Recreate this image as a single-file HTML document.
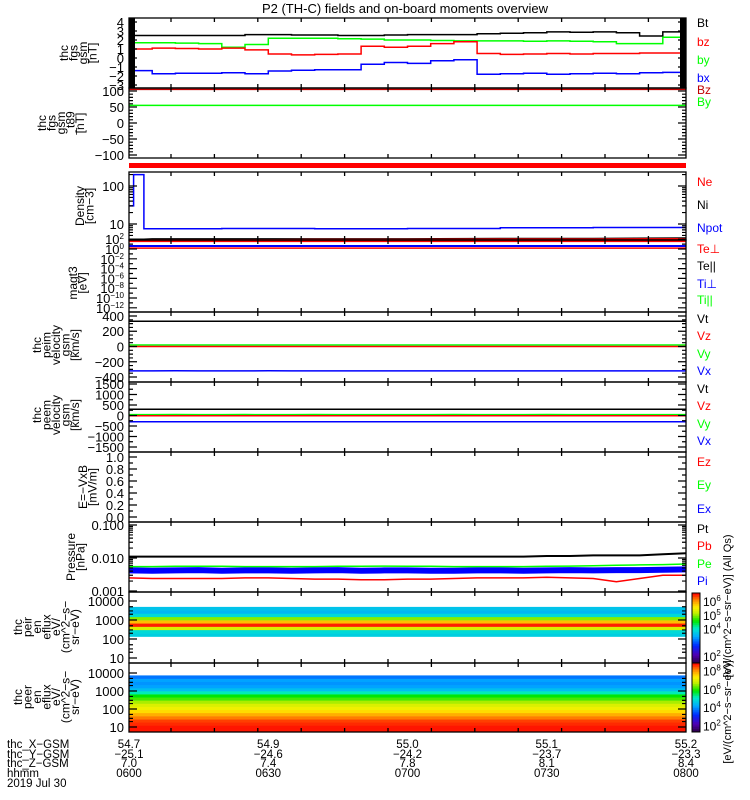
<!DOCTYPE html>
<html><head><meta charset="utf-8">
<style>
html,body{margin:0;padding:0;background:#fff;}
svg{display:block;font-family:"Liberation Sans",sans-serif;}
</style></head>
<body>
<svg id="fig" width="750" height="800" viewBox="0 0 750 800" xmlns="http://www.w3.org/2000/svg">
<text x="405" y="13" font-size="13" text-anchor="middle">P2 (TH-C) fields and on-board moments overview</text>
</svg>
<script>
// ---------- data ----------
const timeMin = [0,5,10,15,20,25,30,35,40,45,50,55,60,65,70,75,80,85,90,95,100,105,110,115,120];
const fgsBt = [2.5,2.5,2.5,2.5,2.5,2.6,2.6,2.55,2.55,2.5,2.5,2.55,2.6,2.6,2.6,2.7,2.75,2.8,2.9,2.85,2.9,2.8,2.45,2.9,3.3];
const fgsBy = [1.7,1.7,1.65,1.6,1.2,1.5,2.2,2.2,2.2,2.15,2.1,2.0,2.0,1.95,1.9,1.9,1.9,1.85,1.9,1.85,1.8,1.6,1.6,2.3,2.7];
const fgsBz = [1.0,1.1,1.05,1.0,1.1,0.9,0.45,0.35,0.4,0.45,1.3,1.2,1.3,1.6,1.8,0.5,0.4,0.45,0.5,0.45,0.5,0.5,0.55,0.55,0.4];
const fgsBx = [-1.4,-1.75,-1.7,-1.7,-1.65,-1.75,-1.45,-1.35,-1.3,-1.3,-0.7,-0.5,-0.6,-0.3,-0.2,-1.8,-1.75,-1.7,-1.8,-1.75,-1.7,-1.75,-1.65,-1.6,-1.7];
const t89Bz = [105,105,105,105,105,105,105,105,105,105,105,105,105,105,105,105,105,105,105,105,105,105,105,105,105];
const t89By = [55,55,55,55,55,55,55,55,55,55,55,55,55,55,55,55,55,55,55,55,55,55,55,55,55];
const densTime = [0,1,3,3.2,5,20,40,60,80,100,120];
const densNpot = [30,200,200,7.5,7.5,7.6,7.5,7.6,8.0,8.1,8.2];
const densNe = [3.7,3.7,3.7,3.7,3.8,3.8,3.9,3.9,4.0,4.0,4.1];
const densNi = [3.9,3.9,3.9,3.9,4.0,4.0,4.0,4.0,4.1,4.1,4.2];
const tempTe = [40,40,40,40,40,40,40,40,40,40,40,40,40,40,40,40,40,40,40,40,40,40,40,40,40];
const tempTi = [4,4,4,4,4,4,4,4,4,4,4,4,4,4,4,4,4,4,4,4,4,4,4,4,4];
const tempTiPar = [1.5,1.5,1.5,1.5,1.5,1.5,1.5,1.5,1.5,1.5,1.5,1.5,1.5,1.5,1.5,1.5,1.5,1.5,1.5,1.5,1.5,1.5,1.5,1.5,1.5];
const peimVt = [330,330,332,330,331,330,330,331,330,330,331,330,330,330,331,330,330,330,331,330,330,330,331,330,330];
const peimVy = [20,20,20,20,20,20,20,20,20,20,20,20,20,20,20,20,20,20,20,20,20,20,20,20,20];
const peimVz = [0,0,0,0,0,0,0,0,0,0,0,0,0,0,0,0,0,0,0,0,0,0,0,0,0];
const peimVx = [-320,-320,-318,-320,-320,-320,-319,-320,-320,-320,-320,-320,-320,-320,-320,-320,-320,-320,-320,-320,-320,-320,-320,-320,-320];
const peemVt = [300,300,300,300,300,300,300,300,300,300,300,300,300,300,300,300,300,300,300,300,300,300,300,300,300];
const peemVy = [30,30,32,30,30,31,30,30,32,30,30,30,30,30,31,30,30,30,32,30,30,30,30,30,30];
const peemVz = [-10,-10,-10,-10,-10,-10,-10,-10,-10,-10,-10,-10,-10,-10,-10,-10,-10,-10,-10,-10,-10,-10,-10,-10,-10];
const peemVx = [-300,-300,-300,-300,-300,-300,-300,-300,-300,-300,-300,-300,-300,-300,-300,-300,-300,-300,-300,-300,-300,-300,-300,-300,-300];
const presPt = [0.011,0.011,0.011,0.011,0.011,0.011,0.011,0.011,0.011,0.011,0.011,0.011,0.011,0.011,0.011,0.011,0.011,0.011,0.0115,0.0115,0.012,0.012,0.012,0.013,0.014];
const presPe = [0.0055,0.0055,0.0056,0.0056,0.0056,0.0055,0.0055,0.0055,0.0055,0.0056,0.0056,0.0057,0.0056,0.0056,0.0055,0.0055,0.0055,0.0055,0.0056,0.0057,0.0058,0.006,0.0062,0.0063,0.0066];
const presPi = [0.0042,0.0041,0.0042,0.0043,0.0041,0.0042,0.0042,0.0041,0.0042,0.0043,0.0041,0.0042,0.0042,0.0041,0.0041,0.0042,0.0042,0.0041,0.0042,0.0043,0.0042,0.0043,0.0043,0.0044,0.0045];
const presPb = [0.0025,0.0024,0.0024,0.0024,0.0024,0.0025,0.0025,0.0024,0.0023,0.0023,0.0022,0.0022,0.0023,0.0023,0.0024,0.0025,0.0025,0.0025,0.0026,0.0025,0.0024,0.0019,0.0024,0.003,0.003];
const peirEnergy = [10,15,22,33,50,75,110,165,250,370,550,820,1200,1800,2700,4000,6000,9000];
const peirFlux = [null,null,null,null,null,null,null,3.9,4.0,5.3,6.4,5.8,5.0,4.0,3.7,3.8,null,null];
const peerEnergy = [7,10,15,22,33,50,75,110,165,250,370,550,820,1200,1800,2700,4000,6000,9000];
const peerFlux = [8.4,8.4,8.3,8.2,7.9,7.6,7.3,7.0,6.8,6.5,6.1,5.8,5.2,4.6,4.3,4.2,4.3,4.0,null];
const orbX = ['54.7','54.9','55.0','55.1','55.2'];
const orbY = ['-25.1','-24.6','-24.2','-23.7','-23.3'];
const orbZ = ['7.0','7.4','7.8','8.1','8.4'];
const orbT = ['0600','0630','0700','0730','0800'];
const orbTimeMin = [0,30,60,90,120];

// ---------- layout ----------
const NS='http://www.w3.org/2000/svg';
const svg=document.getElementById('fig');
const X0=129, X1=686;
const xT = m => X0 + (X1-X0)*m/120;
function mk(tag){const e=document.createElementNS(NS,tag);svg.appendChild(e);return e;}

const panels=[
 {id:'fgs',top:18,bot:88,y:v=>58-9*v},
 {id:'t89',top:88,bot:158,y:v=>123-0.32*v},
 {id:'dens',top:172,bot:240,y:v=>224-38*Math.log10(v/10)},
 {id:'temp',top:240,bot:312,y:v=>249-4.9*Math.log10(v)},
 {id:'peim',top:312,bot:382,y:v=>346.5-0.0763*v},
 {id:'peem',top:382,bot:452,y:v=>415.5-0.021*v},
 {id:'efield',top:452,bot:522,y:v=>517-60*v},
 {id:'pres',top:522,bot:592,y:v=>558-33*Math.log10(v/0.01)},
 {id:'peir',top:592,bot:663,y:e=>601+19*(4-Math.log10(e))},
 {id:'peer',top:663,bot:732,y:e=>673+18*(4-Math.log10(e))}
];
const P={};panels.forEach(p=>P[p.id]=p);

const defs=mk('defs');
panels.forEach(p=>{
  const c=document.createElementNS(NS,'clipPath');c.setAttribute('id','clip-'+p.id);
  const r=document.createElementNS(NS,'rect');r.setAttribute('x',X0);r.setAttribute('y',p.top);r.setAttribute('width',X1-X0);r.setAttribute('height',p.bot-p.top);
  c.appendChild(r);defs.appendChild(c);
});

const stops=[[0,[40,0,60]],[0.12,[80,0,180]],[0.25,[0,40,255]],[0.38,[0,170,255]],[0.5,[0,235,200]],[0.6,[0,230,0]],[0.72,[200,240,0]],[0.8,[255,240,0]],[0.9,[255,140,0]],[1,[255,0,0]]];
function cmap(n){n=Math.max(0,Math.min(1,n));for(let i=1;i<stops.length;i++){if(n<=stops[i][0]){const a=stops[i-1],b=stops[i];const f=(n-a[0])/(b[0]-a[0]);const c=a[1].map((v,k)=>Math.round(v+(b[1][k]-v)*f));return 'rgb('+c.join(',')+')';}}return 'rgb(255,0,0)';}

function spectro(p,energy,flux,lo,hi,name){
  const g=mk('g');g.setAttribute('clip-path','url(#clip-'+p.id+')');
  
  
  for(let i=0;i<energy.length;i++){
    if(flux[i]===null) continue;
    const le=Math.log10(energy[i]);
    const l0=i>0?(le+Math.log10(energy[i-1]))/2:le-0.09;
    const l1=i<energy.length-1?(le+Math.log10(energy[i+1]))/2:le+0.09;
    const yTop=p.y(Math.pow(10,l1)), yBot=p.y(Math.pow(10,l0));
    const r=document.createElementNS(NS,'rect');g.appendChild(r);
    
    
    r.setAttribute('x',X0);r.setAttribute('width',X1-X0);
    r.setAttribute('y',yTop);r.setAttribute('height',Math.max(0,yBot-yTop)+0.3);
    r.setAttribute('fill',cmap((flux[i]-lo)/(hi-lo)));
  }
}
spectro(P.peir,peirEnergy,peirFlux,1.8,6.5,'peir-spectrogram');
spectro(P.peer,peerEnergy,peerFlux,1.8,8.5,'peer-spectrogram');

function line(p,xs,ys,color,name,w){
  const e=mk('polyline');
  
  
  e.setAttribute('points',xs.map((t,i)=>xT(t).toFixed(1)+','+p.y(ys[i]).toFixed(1)).join(' '));
  e.setAttribute('fill','none');e.setAttribute('stroke',color);e.setAttribute('stroke-width',w||1.5);
  e.setAttribute('clip-path','url(#clip-'+p.id+')');
}
function stepLine(p,xs,ys,color,name,w){
  const e=mk('path');
  
  
  let d='';xs.forEach((t,i)=>{const x=xT(t).toFixed(1),y=p.y(ys[i]).toFixed(1);d+=(i?'H'+x+'V'+y:'M'+x+','+y);});
  e.setAttribute('d',d);e.setAttribute('fill','none');e.setAttribute('stroke',color);e.setAttribute('stroke-width',w||1.5);
  e.setAttribute('clip-path','url(#clip-'+p.id+')');
}
stepLine(P.fgs,timeMin,fgsBt,'#000','bt-line');
stepLine(P.fgs,timeMin,fgsBy,'#00ff00','by-line');
stepLine(P.fgs,timeMin,fgsBz,'#ff0000','bz-line');
stepLine(P.fgs,timeMin,fgsBx,'#0000ff','bx-line');
line(P.t89,timeMin,t89Bz,'#c00000','t89-bz-line');
line(P.t89,timeMin,t89By,'#00ff00','t89-by-line');
stepLine(P.dens,densTime,densNpot,'#0000ff','npot-line');
line(P.dens,densTime,densNi,'#000','ni-line',2);
line(P.dens,densTime,densNe,'#ff0000','ne-line',1.5);
line(P.temp,timeMin,tempTe,'#ff0000','te-perp-line',2);
line(P.temp,timeMin,tempTi,'#0000ff','ti-perp-line',2);
line(P.temp,timeMin,tempTiPar,'#ff0000','ti-par-line',1.5);
line(P.peim,timeMin,peimVt,'#000','peim-vt-line');
line(P.peim,timeMin,peimVy,'#00ff00','peim-vy-line');
line(P.peim,timeMin,peimVz,'#ff0000','peim-vz-line');
line(P.peim,timeMin,peimVx,'#0000ff','peim-vx-line');
line(P.peem,timeMin,peemVt,'#000','peem-vt-line');
line(P.peem,timeMin,peemVy,'#00ff00','peem-vy-line',2);
line(P.peem,timeMin,peemVz,'#ff0000','peem-vz-line');
line(P.peem,timeMin,peemVx,'#0000ff','peem-vx-line');
line(P.pres,timeMin,presPt,'#000','pt-line',2);
line(P.pres,timeMin,presPe,'#00ff00','pe-line');
line(P.pres,timeMin,presPi,'#0000ff','pi-line',6);
line(P.pres,timeMin,presPb,'#ff0000','pb-line');

[[X0,X0+6],[X1-6,X1]].forEach(b=>{const r=mk('rect');
  
  
  r.setAttribute('x',b[0]);r.setAttribute('y',18);r.setAttribute('width',6);r.setAttribute('height',70);r.setAttribute('fill','#000');});
{const r=mk('rect');
  
  
  r.setAttribute('x',X0);r.setAttribute('y',163);r.setAttribute('width',X1-X0);r.setAttribute('height',5);r.setAttribute('fill','#ff0000');}

const tickX=[];for(let k=0;k<12;k++)tickX.push(171+43.4*k);
panels.forEach(p=>{
  const r=mk('rect');
  
  
  r.setAttribute('x',X0);r.setAttribute('y',p.top);r.setAttribute('width',X1-X0);r.setAttribute('height',p.bot-p.top);
  r.setAttribute('fill','none');r.setAttribute('stroke','#000');r.setAttribute('stroke-width',1.3);
  let d='';tickX.forEach(x=>{d+='M'+x+','+p.top+'v4M'+x+','+p.bot+'v-4';});
  const t=mk('path');
  
  
  t.setAttribute('d',d);t.setAttribute('stroke','#000');t.setAttribute('stroke-width',1.3);
});
{const l=mk('line');
 
 
 l.setAttribute('x1',X0);l.setAttribute('x2',X1);l.setAttribute('y1',172);l.setAttribute('y2',172);l.setAttribute('stroke','#000');}

function yAxis(p,major,labels,minor,name){
  let d='';
  major.forEach(v=>{const y=p.y(v);d+='M'+X0+','+y+'h8M'+X1+','+y+'h-8';});
  minor.forEach(v=>{const y=p.y(v);d+='M'+X0+','+y+'h4M'+X1+','+y+'h-4';});
  const t=mk('path');
  
  
  t.setAttribute('d',d);t.setAttribute('stroke','#000');t.setAttribute('stroke-width',1.2);
  major.forEach((v,i)=>{
    const tx=mk('text');
    
    
    tx.setAttribute('x',124);tx.setAttribute('y',p.y(v)+5);tx.setAttribute('text-anchor','end');tx.setAttribute('font-size','13');
    const lab=labels[i];
    if(typeof lab==='object'){tx.textContent='10';const s=document.createElementNS(NS,'tspan');s.setAttribute('dy','-5');s.setAttribute('font-size','8');s.textContent=lab.e;tx.appendChild(s);}
    else tx.textContent=lab;
  });
}
yAxis(P.fgs,[4,3,2,1,0,-1,-2,-3],['4','3','2','1','0','\u22121','\u22122','\u22123'],[3.5,2.5,1.5,0.5,-0.5,-1.5,-2.5],'fgs-y');
yAxis(P.t89,[100,50,0,-50,-100],['100','50','0','\u221250','\u2212100'],[90,80,70,60,40,30,20,10,-10,-20,-30,-40,-60,-70,-80,-90],'t89-y');
yAxis(P.dens,[100,10],['100','10'],[200,90,80,70,60,50,40,30,20,9,8,7,6,5,4],'density-y');
yAxis(P.temp,[100,1,0.01,1e-4,1e-6,1e-8,1e-10,1e-12],[{e:'2'},{e:'0'},{e:'\u22122'},{e:'\u22124'},{e:'\u22126'},{e:'\u22128'},{e:'\u221210'},{e:'\u221212'}],[10,0.1,1e-3,1e-5,1e-7,1e-9,1e-11],'temp-y');
yAxis(P.peim,[400,200,0,-200,-400],['400','200','0','\u2212200','\u2212400'],[350,300,250,150,100,50,-50,-100,-150,-250,-300,-350],'peim-y');
yAxis(P.peem,[1500,1000,500,0,-500,-1000,-1500],['1500','1000','500','0','\u2212500','\u22121000','\u22121500'],[1250,750,250,-250,-750,-1250],'peem-y');
yAxis(P.efield,[1,0.8,0.6,0.4,0.2,0],['1.0','0.8','0.6','0.4','0.2','0.0'],[0.9,0.7,0.5,0.3,0.1],'efield-y');
yAxis(P.pres,[0.1,0.01,0.001],['0.100','0.010','0.001'],[0.09,0.08,0.07,0.06,0.05,0.04,0.03,0.02,0.009,0.008,0.007,0.006,0.005,0.004,0.003,0.002],'pressure-y');
yAxis(P.peir,[10000,1000,100,10],['10000','1000','100','10'],[5000,3000,2000,500,300,200,50,30,20],'peir-y');
yAxis(P.peer,[10000,1000,100,10],['10000','1000','100','10'],[5000,3000,2000,500,300,200,50,30,20],'peer-y');

const titles=[
 [['thc','fgs','gsm','[nT]'],68,53],
 [['thc','fgs','gsm','_t89','[nT]'],46,123],
 [['Density','[cm\u22123]'],84,206],
 [['magt3','[eV]'],77,283],
 [['thc','peim','velocity','gsm','[km/s]'],41,345],
 [['thc','peem','velocity','gsm','[km/s]'],41,415],
 [['E=\u2212VxB','[mV/m]'],87,487],
 [['Pressure','[nPa]'],75,557],
 [['thc','peir','en','eflux','eV/','(cm^2\u2212s\u2212','sr\u2212eV)'],22,627],
 [['thc','peer','en','eflux','eV/','(cm^2\u2212s\u2212','sr\u2212eV)'],22,697]
];
titles.forEach(t=>{
  t[0].forEach((s,i)=>{
    const tx=mk('text');
    
    
    tx.setAttribute('transform','translate('+(t[1]+i*9.5)+','+t[2]+') rotate(-90)');
    tx.setAttribute('text-anchor','middle');tx.setAttribute('font-size','12');tx.textContent=s;
  });
});

const legends=[['Bt','#000',22],['bz','#ff0000',41],['by','#00ff00',59],['bx','#0000ff',77],['Bz','#c00000',89],['By','#00ff00',101],
 ['Ne','#ff0000',181],['Ni','#000',204],['Npot','#0000ff',227],['Te\u22a5','#ff0000',248],['Te||','#000',265],['Ti\u22a5','#0000ff',283],['Ti||','#00ff00',299],
 ['Vt','#000',318],['Vz','#ff0000',335],['Vy','#00ff00',353],['Vx','#0000ff',370],['Vt','#000',388],['Vz','#ff0000',405],['Vy','#00ff00',423],['Vx','#0000ff',440],
 ['Ez','#ff0000',461],['Ey','#00ff00',484],['Ex','#0000ff',508],['Pt','#000',528],['Pb','#ff0000',545],['Pe','#00ff00',563],['Pi','#0000ff',580]];
legends.forEach(l=>{
  const tx=mk('text');
  
  
  tx.setAttribute('x',697);tx.setAttribute('y',l[2]+5);tx.setAttribute('font-size','12');tx.setAttribute('fill',l[1]);tx.textContent=l[0];
});

function colorbar(top,bot,lo,hi,ticks,name){
  for(let i=0;i<40;i++){
    const r=mk('rect');
    
    
    const h=(bot-top)/40;r.setAttribute('x',692);r.setAttribute('y',bot-(i+1)*h);r.setAttribute('width',8);r.setAttribute('height',h+0.4);
    r.setAttribute('fill',cmap((i+0.5)/40));
  }
  const f=mk('rect');
  
  
  f.setAttribute('x',692);f.setAttribute('y',top);f.setAttribute('width',8);f.setAttribute('height',bot-top);f.setAttribute('fill','none');f.setAttribute('stroke','#000');
  ticks.forEach(t=>{
    const y=bot-(bot-top)*(t-lo)/(hi-lo);
    const tx=mk('text');
    
    
    tx.setAttribute('x',703);tx.setAttribute('y',y+5);tx.setAttribute('font-size','12');tx.textContent='10';
    const s=document.createElementNS(NS,'tspan');s.setAttribute('dy','-5');s.setAttribute('font-size','8');s.textContent=String(t);tx.appendChild(s);
  });
}
colorbar(593,663,1.5,6.6,[6,5,4,2],'peir-colorbar');
colorbar(663,732,1.3,8.8,[8,6,4,2],'peer-colorbar');
[['[eV/(cm^2\u2212s\u2212sr\u2212eV)] (All Qs)',606],['[eV/(cm^2\u2212s\u2212sr\u2212eV)]',712]].forEach(c=>{
  const tx=mk('text');
  
  
  tx.setAttribute('transform','translate(731,'+c[1]+') rotate(-90)');tx.setAttribute('text-anchor','middle');tx.setAttribute('font-size','11');tx.textContent=c[0];
});

const rowY=[745,755,764,774];
['thc_X\u2212GSM','thc_Y\u2212GSM','thc_Z\u2212GSM','hhmm','2019 Jul 30'].forEach((s,i)=>{
  const tx=mk('text');
  
  
  tx.setAttribute('x',7);tx.setAttribute('y',(rowY[i]||784)+3);tx.setAttribute('font-size','11.5');tx.textContent=s;
});
[orbX,orbY,orbZ,orbT].forEach((row,r)=>{
  row.forEach((s,i)=>{
    const tx=mk('text');
    
    
    tx.setAttribute('x',xT(orbTimeMin[i]));tx.setAttribute('y',rowY[r]+3);tx.setAttribute('text-anchor','middle');tx.setAttribute('font-size','11.5');
    tx.textContent=s.replace('-','\u2212');
  });
});
</script>
</body></html>
